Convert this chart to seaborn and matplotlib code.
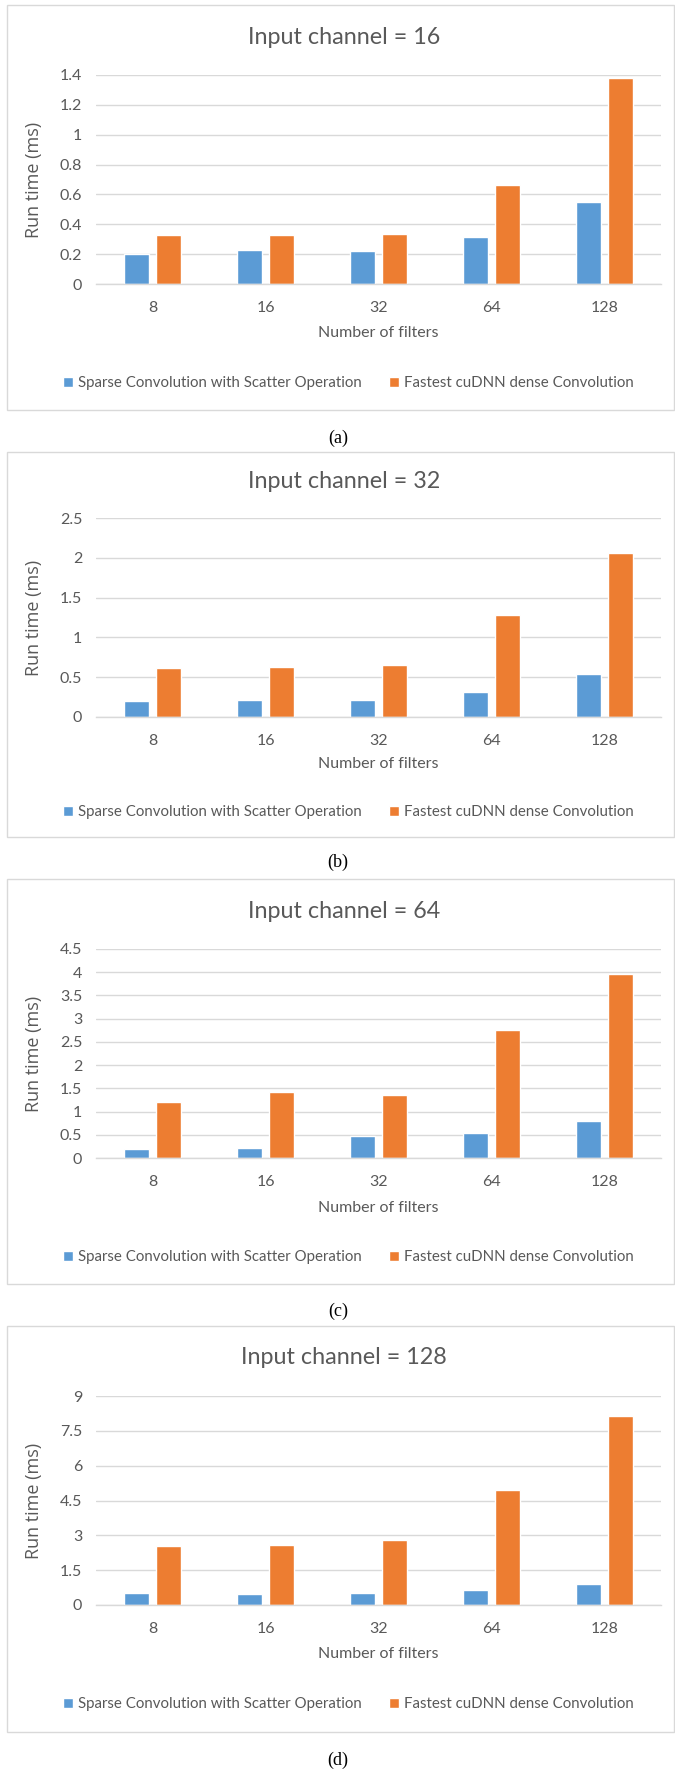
import pandas as pd
import seaborn as sns
from matplotlib import pyplot as plt
from matplotlib.patches import Rectangle
from matplotlib.ticker import FuncFormatter

filters = ["8", "16", "32", "64", "128"]
series = ["Sparse Convolution with Scatter Operation", "Fastest cuDNN dense Convolution"]

channels = [16, 32, 64, 128]
sparse_16 = [0.20, 0.228, 0.223, 0.317, 0.549]
dense_16 = [0.326, 0.328, 0.335, 0.663, 1.382]
sparse_32 = [0.205, 0.218, 0.218, 0.31, 0.536]
dense_32 = [0.62, 0.624, 0.657, 1.277, 2.065]
sparse_64 = [0.20, 0.216, 0.48, 0.53, 0.80]
dense_64 = [1.215, 1.416, 1.366, 2.746, 3.968]
sparse_128 = [0.53, 0.47, 0.50, 0.63, 0.90]
dense_128 = [2.53, 2.57, 2.78, 4.94, 8.14]

y_max = [1.4, 2.5, 4.5, 9]
y_step = [0.2, 0.5, 0.5, 1.5]
captions = ["(a)", "(b)", "(c)", "(d)"]

sparse_all = [sparse_16, sparse_32, sparse_64, sparse_128]
dense_all = [dense_16, dense_32, dense_64, dense_128]

sns.set_style("white")
plt.rcParams["font.family"] = ["Lato", "DejaVu Sans"]

W, H = 675, 1771
fig = plt.figure(figsize=(W / 100, H / 100), dpi=100)

TEXT = "#595959"
GRID = "#D9D9D9"
palette = ["#5B9BD5", "#ED7D31"]

# pixel layout of each panel (top-down coords)
axes_px = [(75, 284), (518, 717), (949, 1158), (1396, 1605)]
box_px = [(5, 410), (452, 837), (879, 1284), (1326, 1732)]
title_px = [37, 482, 911, 1358]
xlabel_px = [333, 764, 1208, 1654]
legend_px = [383, 812, 1257, 1704]
caption_px = [438, 862, 1311, 1760]
ax_left, ax_right = 96, 661


def fy(p):
    return 1 - p / H


for i, ch in enumerate(channels):
    top, bot = axes_px[i]
    ax = fig.add_axes([ax_left / W, fy(bot), (ax_right - ax_left) / W, (bot - top) / H])

    df = pd.DataFrame({
        "filters": filters * 2,
        "time": sparse_all[i] + dense_all[i],
        "series": [series[0]] * 5 + [series[1]] * 5,
    })
    sns.barplot(data=df, x="filters", y="time", hue="series", palette=palette,
                width=0.57, gap=0.21, saturation=1, ax=ax, legend=True)

    ax.set_xlim(-0.5, 4.5)
    ax.set_ylim(0, y_max[i])
    n = int(round(y_max[i] / y_step[i]))
    ticks = [k * y_step[i] for k in range(n + 1)]
    ax.set_yticks(ticks)
    ax.yaxis.set_major_formatter(FuncFormatter(lambda v, _: f"{v:g}"))
    ax.grid(axis="y", color=GRID, lw=1)
    ax.set_axisbelow(True)
    for s in ["top", "right", "left"]:
        ax.spines[s].set_visible(False)
    ax.spines["bottom"].set_color(GRID)
    ax.spines["bottom"].set_linewidth(1)
    ax.tick_params(length=0, colors=TEXT, labelsize=11.5, pad=10)
    ax.tick_params(axis="x", pad=12)

    ax.set_xlabel("")
    ax.set_ylabel("Run time (ms)", color=TEXT, fontsize=13,
                  family=["Open Sans", "DejaVu Sans"])
    ax.yaxis.set_label_coords((43 - ax_left) / (ax_right - ax_left), 0.5)
    fig.text((ax_left + ax_right) / 2 / W, fy(xlabel_px[i]), "Number of filters",
             ha="center", va="center", color=TEXT, fontsize=11.5)

    fig.text(344 / W, fy(title_px[i]), f"Input channel = {ch}",
             ha="center", va="center", color=TEXT, fontsize=16.8)

    handles, labels = ax.get_legend_handles_labels()
    ax.get_legend().remove()
    fig.legend(handles, labels, loc="center", bbox_to_anchor=(348 / W, fy(legend_px[i])),
               ncol=2, frameon=False, fontsize=10.8, labelcolor=TEXT,
               handlelength=0.7, handleheight=0.7, handletextpad=0.3, columnspacing=1.8)

    b0, b1 = box_px[i]
    fig.patches.append(Rectangle((7 / W, fy(b1)), (W - 8) / W, (b1 - b0) / H,
                                 transform=fig.transFigure, fill=False,
                                 edgecolor=GRID, lw=1))
    fig.text(338 / W, fy(caption_px[i]), captions[i], ha="center", va="center",
             fontsize=13, family=["Liberation Serif", "DejaVu Serif"], color="black")

fig.savefig("out.png", dpi=100, facecolor="white")
